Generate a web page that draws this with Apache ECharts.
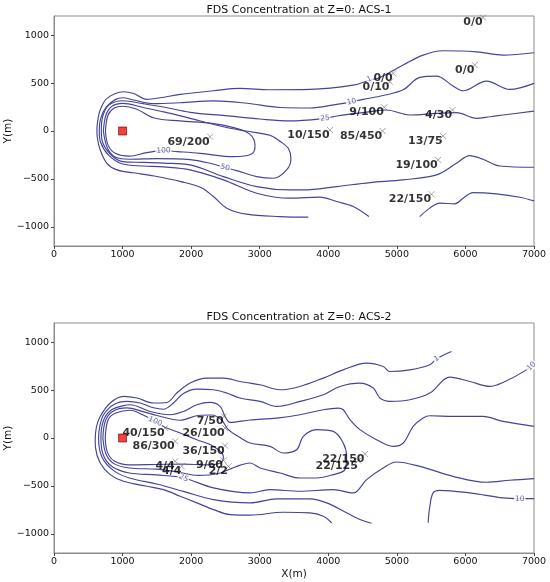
<!DOCTYPE html>
<html>
<head>
<meta charset="utf-8">
<script src="https://cdn.jsdelivr.net/npm/echarts@6/dist/echarts.min.js"></script>
<style>
  html, body { margin: 0; padding: 0; background: #fff; }
  #chart { width: 550px; height: 582px; }
</style>
</head>
<body>
<div id="chart"></div>
<script>
// ---- data (x, y in metres) ----
var titles = ['FDS Concentration at Z=0: ACS-1', 'FDS Concentration at Z=0: ACS-2'];
var sourceX = 1000, sourceY = 0;
var yTicks = [-1000, -500, 0, 500, 1000];

// ACS-1 contour lines
var acs1_c1 = [[3708,-899],[3296,-893],[2811,-868],[2520,-805],[2325,-684],[2141,-590],[1850,-528],[1461,-470],[1160,-436],[918,-406],[772,-337],[674,-198],[630,-60],[626,10],[645,140],[674,219],[772,340],[1014,410],[1160,392],[1354,330],[1548,347],[1840,382],[2325,420],[2713,445],[3150,430],[3733,434],[4364,479],[4600,530],[4753,559],[5092,688],[5383,792],[5675,837],[6161,826],[6549,792],[7000,816]];
var acs1_c10 = [[4592,-893],[4364,-788],[4122,-736],[3878,-690],[3442,-701],[2956,-649],[2470,-510],[1985,-406],[1600,-375],[1300,-365],[1000,-345],[800,-255],[680,-120],[660,0],[680,130],[760,250],[900,330],[1005,347],[1160,323],[1451,285],[1840,295],[2325,315],[2811,290],[3296,245],[3733,240],[4100,275],[4340,305],[4510,330],[4800,370],[5092,430],[5335,560],[5578,573],[5820,469],[5966,420],[6306,521],[6646,434],[7000,497]];
var acs1_c10b = [[5334,-893],[5480,-805],[5625,-753],[5844,-760],[5966,-701],[6112,-643],[6452,-656],[6792,-691],[7000,-729]];
var acs1_c25 = [[7000,-378],[6500,-365],[6257,-295],[6063,-257],[5869,-337],[5578,-458],[5092,-510],[4607,-538],[4122,-580],[3636,-615],[3442,-615],[2956,-580],[2470,-476],[1985,-354],[1600,-335],[1300,-328],[1000,-320],[820,-240],[705,-110],[690,0],[710,150],[800,270],[1000,316],[1300,285],[1600,250],[1985,195],[2500,160],[3000,125],[3442,105],[3951,132],[4122,156],[4607,201],[4850,219],[5190,167],[5578,184],[5869,191],[6161,132],[6355,149],[6549,167],[7000,208]];
var acs1_c50 = [[720,0],[760,170],[850,260],[1000,288],[1300,245],[1600,200],[1946,140],[2470,45],[2800,0],[3150,-45],[3300,-110],[3417,-180],[3455,-290],[3393,-406],[3199,-493],[2956,-476],[2665,-413],[2495,-382],[2277,-337],[1985,-298],[1500,-288],[1100,-295],[900,-275],[780,-180],[720,0]];
var acs1_c100 = [[750,0],[790,170],[880,240],[1000,258],[1200,230],[1461,135],[1840,105],[2300,80],[2620,35],[2850,-30],[2932,-150],[2880,-240],[2616,-268],[2131,-233],[1800,-215],[1596,-205],[1354,-226],[1100,-262],[900,-235],[790,-150],[750,0]];

var acs1_levelText = ['1', '10', '25', '50', '100'];
var acs1_levelX = [4600, 4340, 3951, 2495, 1596];
var acs1_levelY = [540, 305, 132, -382, -205];
var acs1_levelAngle = [25, 12, 6, -15, 3];

var acs1_names = ['69/200','0/0','0/0','0/0','0/10','9/100','4/30','10/150','85/450','13/75','19/100','22/150'];
var acs1_x = [2277, 6257, 6136, 4946, 4898, 4816, 5811, 4025, 4792, 5675, 5602, 5505];
var acs1_y = [-59, 1185, 688, 601, 514, 247, 219, 10, 0, -52, -302, -660];

// ACS-2 contour lines
var acs2_c1 = [[4049,-885],[3927,-816],[3733,-781],[3344,-775],[2859,-805],[2568,-799],[2325,-747],[2083,-677],[1840,-608],[1596,-539],[1354,-504],[1014,-452],[820,-382],[674,-260],[605,-100],[601,-18],[620,120],[674,225],[820,365],[1014,434],[1209,417],[1451,365],[1646,371],[1791,469],[1985,573],[2228,625],[2470,625],[2713,590],[2859,573],[3005,555],[3296,503],[3587,538],[3927,625],[4218,711],[4559,781],[4801,746],[4898,694],[5190,711],[5481,764],[5578,826],[5797,902]];
var acs2_c10 = [[4632,-890],[4461,-851],[4267,-781],[3976,-677],[3733,-635],[3248,-635],[2859,-677],[2325,-643],[1900,-560],[1500,-480],[1100,-417],[870,-340],[700,-200],[650,0],[670,130],[723,243],[868,347],[1063,382],[1257,365],[1451,315],[1596,300],[1742,365],[1888,465],[2083,510],[2325,503],[2520,469],[2713,417],[3005,382],[3248,330],[3587,382],[3927,451],[4170,538],[4461,573],[4655,521],[4753,417],[4898,382],[5190,399],[5481,469],[5772,635],[6063,590],[6355,538],[6549,580],[6889,711],[7000,790]];
var acs2_c10b = [[5456,-885],[5481,-712],[5529,-573],[5626,-546],[6063,-573],[6549,-625],[6792,-632],[7000,-632]];
var acs2_c25 = [[7000,-424],[6646,-441],[6306,-462],[5820,-400],[5335,-296],[4995,-250],[4801,-313],[4559,-434],[4364,-573],[4073,-539],[3587,-556],[3150,-539],[2859,-573],[2325,-520],[1888,-417],[1500,-385],[1100,-365],[850,-300],[720,-180],[684,0],[720,180],[830,290],[1000,335],[1111,347],[1403,277],[1694,243],[1888,277],[2083,347],[2277,371],[2422,330],[2495,225],[2568,163],[2859,188],[3248,208],[3587,243],[3927,295],[4145,312],[4218,295],[4316,191],[4461,87],[4704,-18],[4946,-87],[5092,-52],[5238,121],[5383,208],[5481,232],[5820,225],[6257,225],[6549,173],[7000,121]];
var acs2_c50 = [[713,0],[750,180],[860,280],[1063,315],[1300,275],[1500,235],[1840,185],[2100,235],[2300,240],[2440,190],[2540,90],[2700,10],[2859,-52],[3150,-87],[3344,-156],[3539,-122],[3636,17],[3830,87],[4073,69],[4218,-52],[4267,-191],[4243,-330],[4073,-382],[3830,-417],[3587,-417],[3296,-365],[3005,-313],[2859,-261],[2650,-300],[2400,-370],[2100,-390],[1800,-355],[1500,-325],[1100,-313],[880,-270],[760,-170],[713,0]];
var acs2_c100 = [[747,0],[790,190],[900,260],[1111,290],[1300,240],[1475,173],[1596,121],[1840,52],[2083,-18],[2325,-87],[2470,-191],[2430,-260],[2200,-280],[1900,-272],[1500,-276],[1100,-280],[880,-240],[780,-150],[747,0]];

var acs2_levelText = ['100', '25', '1', '10', '10'];
var acs2_levelX = [1475, 1888, 5578, 6962, 6792];
var acs2_levelY = [173, -417, 826, 748, -632];
var acs2_levelAngle = [-25, -25, 30, 45, 0];

var acs2_names = ['40/150','86/300','7/50','26/100','36/150','9/60','2/2','4/4','4/4','22/150','22/125'];
var acs2_x = [1621, 1767, 2480, 2495, 2495, 2470, 2543, 1767, 1864, 4534, 4437];
var acs2_y = [104, -35, 225, 104, -80, -233, -296, -243, -296, -167, -236];

// ---- chart ----
var chart = echarts.init(document.getElementById('chart'));
var FONT = 'DejaVu Sans';
var LINE = '#44449a';
var FRAME = '#8c8c8c';

function num(v) { return v < 0 ? '\u2212' + Math.abs(v) : String(v); }

function contour(data, gi) {
  return {
    type: 'line', xAxisIndex: gi, yAxisIndex: gi, data: data,
    showSymbol: false, smooth: 0.35, silent: true,
    lineStyle: { color: LINE, width: 1.15 }, z: 2
  };
}

function levelLabels(txt, xs, ys, angles, gi) {
  return {
    type: 'scatter', xAxisIndex: gi, yAxisIndex: gi, symbolSize: 0, silent: true, z: 3,
    data: txt.map(function (t, i) {
      return {
        value: [xs[i], ys[i]],
        label: {
          show: true, position: 'inside', formatter: t, rotate: angles[i],
          color: LINE, fontSize: 7.5, fontFamily: FONT,
          backgroundColor: '#fff', padding: [0, 1]
        }
      };
    })
  };
}

function stations(names, xs, ys, gi) {
  return {
    type: 'scatter', xAxisIndex: gi, yAxisIndex: gi, silent: true, z: 4,
    symbol: 'path://M0,0L10,10M10,0L0,10', symbolSize: 6,
    itemStyle: { color: 'rgba(0,0,0,0)', borderColor: '#707070', borderWidth: 0.8 },
    label: {
      show: true, position: [3, 3], align: 'right', verticalAlign: 'top',
      formatter: function (p) { return p.value[2]; },
      color: '#000', fontSize: 11, fontWeight: 'bold', fontFamily: FONT
    },
    data: names.map(function (n, i) { return [xs[i], ys[i], n]; })
  };
}

function source(gi) {
  return {
    type: 'scatter', xAxisIndex: gi, yAxisIndex: gi, silent: true, z: 5,
    symbol: 'rect', symbolSize: 8,
    itemStyle: { color: '#ee1111', borderColor: '#660000', borderWidth: 0.8 },
    data: [[sourceX, sourceY]]
  };
}

function xAxis(gi, name) {
  return {
    type: 'value', gridIndex: gi, min: 0, max: 7000, interval: 1000,
    name: name, nameLocation: 'middle', nameGap: 16, nameMoveOverlap: false,
    nameTextStyle: { fontSize: 10.5, color: '#111', fontFamily: FONT },
    axisLine: { show: true, onZero: false, lineStyle: { color: FRAME } },
    axisTick: { show: true, length: 3, lineStyle: { color: '#444' } },
    axisLabel: { fontSize: 9.5, color: '#111', margin: 4, fontFamily: FONT, formatter: num },
    splitLine: { show: false }
  };
}

function yAxis(gi) {
  return {
    type: 'value', gridIndex: gi, min: -1200, max: 1200,
    name: 'Y(m)', nameLocation: 'middle', nameGap: 40, nameMoveOverlap: false,
    nameTextStyle: { fontSize: 10.5, color: '#111', fontFamily: FONT },
    axisLine: { show: true, onZero: false, lineStyle: { color: FRAME } },
    axisTick: { show: true, length: 3, customValues: yTicks, lineStyle: { color: '#444' } },
    axisLabel: { fontSize: 9.5, color: '#111', margin: 5, fontFamily: FONT, customValues: yTicks, formatter: num },
    splitLine: { show: false }
  };
}

var option = {
  animation: false,
  backgroundColor: '#fff',
  textStyle: { fontFamily: FONT },
  title: [
    { text: titles[0], left: 294, top: 0, textAlign: 'center',
      textStyle: { fontSize: 11, fontWeight: 'normal', color: '#111', fontFamily: FONT } },
    { text: titles[1], left: 294, top: 307, textAlign: 'center',
      textStyle: { fontSize: 11, fontWeight: 'normal', color: '#111', fontFamily: FONT } }
  ],
  grid: [
    { left: 54, top: 16, width: 480, height: 230, outerBoundsMode: 'none', containLabel: false,
      show: true, borderColor: FRAME, borderWidth: 1, backgroundColor: '#fff' },
    { left: 54, top: 323, width: 480, height: 230, outerBoundsMode: 'none', containLabel: false,
      show: true, borderColor: FRAME, borderWidth: 1, backgroundColor: '#fff' }
  ],
  xAxis: [xAxis(0, ''), xAxis(1, 'X(m)')],
  yAxis: [yAxis(0), yAxis(1)],
  series: [
    contour(acs1_c1, 0), contour(acs1_c10, 0), contour(acs1_c10b, 0),
    contour(acs1_c25, 0), contour(acs1_c50, 0), contour(acs1_c100, 0),
    levelLabels(acs1_levelText, acs1_levelX, acs1_levelY, acs1_levelAngle, 0),
    stations(acs1_names, acs1_x, acs1_y, 0),
    source(0),
    contour(acs2_c1, 1), contour(acs2_c10, 1), contour(acs2_c10b, 1),
    contour(acs2_c25, 1), contour(acs2_c50, 1), contour(acs2_c100, 1),
    levelLabels(acs2_levelText, acs2_levelX, acs2_levelY, acs2_levelAngle, 1),
    stations(acs2_names, acs2_x, acs2_y, 1),
    source(1)
  ]
};
chart.setOption(option);
</script>
</body>
</html>
